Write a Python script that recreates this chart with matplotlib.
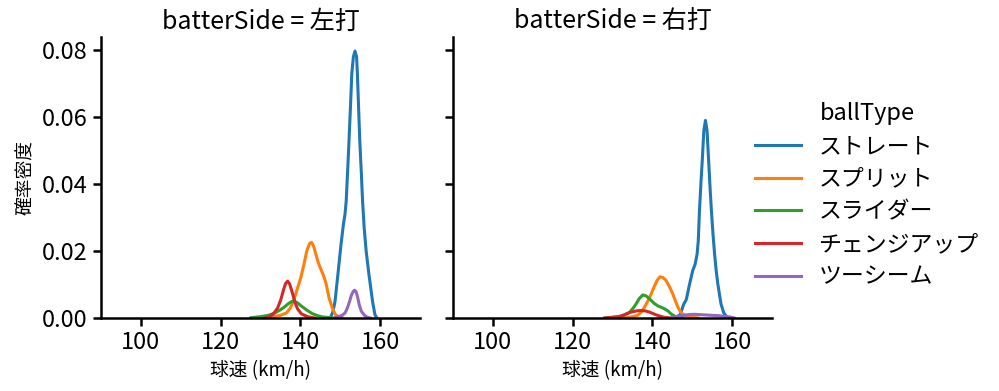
import matplotlib
matplotlib.use('Agg')
import matplotlib.pyplot as plt
import numpy as np

plt.rcParams['font.family'] = ['Noto Sans CJK JP', 'DejaVu Sans']

# 球種ごとの密度曲線
ball_types = ['ストレート', 'スプリット', 'スライダー', 'チェンジアップ', 'ツーシーム']
colors = ['#1f77b4', '#ff7f0e', '#2ca02c', '#d62728', '#9467bd']

# 左打
left_straight_x = [147.5, 148.2, 148.7, 149.5, 150.2, 150.8, 151.2, 151.5, 151.9, 152.2, 152.6, 152.9,
                   153.3, 153.7, 154.1, 154.3, 154.9, 155.3, 155.6, 156.0, 156.5, 157.2, 158.1, 158.7, 159.2]
left_straight_y = [0.0, 0.002, 0.005, 0.014, 0.022, 0.028, 0.031, 0.035, 0.045, 0.053, 0.064, 0.073,
                   0.078, 0.0797, 0.078, 0.073, 0.053, 0.043, 0.035, 0.027, 0.020, 0.013, 0.005, 0.001, 0.0]
left_split_x = [130.0, 133.0, 135.0, 136.5, 137.5, 138.4, 139.3, 140.1, 140.9, 141.6, 142.3, 142.8,
                143.3, 143.9, 144.5, 145.0, 145.7, 146.4, 147.2, 148.0, 148.8, 149.8, 150.5]
left_split_y = [0.0002, 0.0004, 0.0008, 0.0015, 0.003, 0.0055, 0.009, 0.012, 0.016, 0.020, 0.0222, 0.0226,
                0.0215, 0.019, 0.0165, 0.015, 0.013, 0.0105, 0.006, 0.003, 0.001, 0.0002, 0.0]
left_slider_x = [127.6, 130.0, 132.0, 133.4, 134.8, 135.9, 137.0, 137.8, 138.4, 139.2, 140.1, 141.0,
                 141.8, 143.0, 144.3, 145.6, 147.5, 148.5]
left_slider_y = [0.0001, 0.0004, 0.0008, 0.0014, 0.0023, 0.0032, 0.0043, 0.0049, 0.0050, 0.0046, 0.0037, 0.0029,
                 0.0022, 0.0013, 0.0007, 0.0003, 0.0001, 0.0]
left_change_x = [131.0, 132.5, 133.4, 134.3, 135.1, 135.8, 136.3, 136.8, 137.3, 138.0, 138.7, 139.3,
                 140.3, 141.8, 143.5]
left_change_y = [0.0, 0.0005, 0.0015, 0.003, 0.0055, 0.0085, 0.0103, 0.011, 0.0102, 0.0075, 0.0045, 0.0027,
                 0.0012, 0.0004, 0.0]
left_two_x = [148.5, 149.5, 150.5, 151.2, 151.8, 152.3, 152.8, 153.3, 153.6, 154.0, 154.4, 154.8,
              155.3, 156.0, 156.8, 157.5]
left_two_y = [0.0, 0.0004, 0.0008, 0.0015, 0.003, 0.0048, 0.0068, 0.008, 0.0083, 0.0078, 0.006, 0.0038,
              0.002, 0.0009, 0.0002, 0.0]

# 右打
right_straight_x = [145.0, 146.0, 147.0, 147.8, 148.5, 149.3, 150.1, 150.7, 151.2, 151.5, 151.8, 152.2,
                    152.5, 152.9, 153.3, 153.7, 154.1, 154.5, 154.8, 155.2, 155.6, 156.0, 156.4, 157.2,
                    157.9, 158.7, 159.5]
right_straight_y = [0.0, 0.0003, 0.001, 0.004, 0.0055, 0.010, 0.0141, 0.016, 0.019, 0.023, 0.032, 0.041,
                    0.047, 0.056, 0.059, 0.056, 0.047, 0.038, 0.032, 0.025, 0.019, 0.0141, 0.0102, 0.0042,
                    0.0015, 0.0003, 0.0]
right_split_x = [132.0, 134.0, 135.5, 136.3, 137.2, 138.0, 138.9, 139.7, 140.5, 141.2, 141.9, 142.6,
                 143.3, 143.9, 144.5, 145.1, 145.8, 146.4, 147.0, 147.6, 148.8, 150.1, 151.5]
right_split_y = [0.0, 0.0002, 0.0005, 0.0008, 0.0018, 0.0032, 0.0052, 0.0072, 0.0095, 0.0113, 0.0123, 0.0121,
                 0.0114, 0.0102, 0.0088, 0.0072, 0.0050, 0.0032, 0.002, 0.0012, 0.0005, 0.0003, 0.0]
right_slider_x = [128.3, 130.0, 131.8, 133.2, 134.3, 135.2, 135.9, 136.7, 137.6, 138.4, 139.3, 140.5,
                  141.4, 142.2, 143.1, 143.9, 144.7, 145.5, 146.5, 147.6]
right_slider_y = [0.0, 0.0002, 0.0004, 0.001, 0.0017, 0.003, 0.0042, 0.0058, 0.0069, 0.0066, 0.0057, 0.0043,
                  0.0036, 0.0032, 0.0027, 0.0021, 0.0012, 0.0006, 0.0002, 0.0]
right_change_x = [128.0, 130.0, 131.5, 132.6, 133.6, 134.5, 135.5, 136.5, 137.4, 138.3, 139.2, 140.2,
                  141.0, 141.8, 143.0, 144.5]
right_change_y = [0.0, 0.0002, 0.0004, 0.0008, 0.0013, 0.0017, 0.002, 0.0022, 0.0022, 0.0021, 0.0018, 0.0013,
                  0.0009, 0.0006, 0.0002, 0.0]
right_two_x = [144.5, 146.0, 147.5, 149.0, 150.5, 152.0, 153.5, 155.0, 156.5, 158.0, 159.5, 160.5]
right_two_y = [0.0, 0.0003, 0.0007, 0.0010, 0.0011, 0.0010, 0.0009, 0.0008, 0.0007, 0.0005, 0.0003, 0.0]

panels = {
    '左打': [(left_straight_x, left_straight_y), (left_split_x, left_split_y), (left_slider_x, left_slider_y),
             (left_change_x, left_change_y), (left_two_x, left_two_y)],
    '右打': [(right_straight_x, right_straight_y), (right_split_x, right_split_y), (right_slider_x, right_slider_y),
             (right_change_x, right_change_y), (right_two_x, right_two_y)],
}

fig = plt.figure(figsize=(9.99, 3.91), dpi=100)
ax1 = fig.add_axes([0.1011, 0.1867, 0.3193, 0.7187])
ax2 = fig.add_axes([0.4535, 0.1867, 0.3193, 0.7187], sharex=ax1, sharey=ax1)

for ax, side in zip([ax1, ax2], panels):
    for (xs, ys), name, c in zip(panels[side], ball_types, colors):
        ax.plot(xs, ys, color=c, lw=2.2, label=name)
    ax.set_title(f'batterSide = {side}', fontsize=18)
    ax.set_xlabel('球速 (km/h)', fontsize=13.5)
    for s in ['top', 'right']:
        ax.spines[s].set_visible(False)
    for s in ['left', 'bottom']:
        ax.spines[s].set_linewidth(1.8)
    ax.tick_params(width=1.8, length=6, labelsize=17)

ax1.set_xlim(90, 170)
ax1.set_ylim(0, 0.0839)
ax1.set_xticks([100, 120, 140, 160])
ax1.set_yticks([0.0, 0.02, 0.04, 0.06, 0.08])
ax1.set_ylabel('確率密度', fontsize=13.5)
ax2.tick_params(labelleft=False)

handles, labels = ax1.get_legend_handles_labels()
leg = fig.legend(handles, labels, title='ballType', loc='center left', bbox_to_anchor=(0.735, 0.5),
                 frameon=False, fontsize=16.5, title_fontsize=17, handlelength=2.0,
                 labelspacing=0.42, handletextpad=0.8)

fig.savefig('out.png', dpi=100)
